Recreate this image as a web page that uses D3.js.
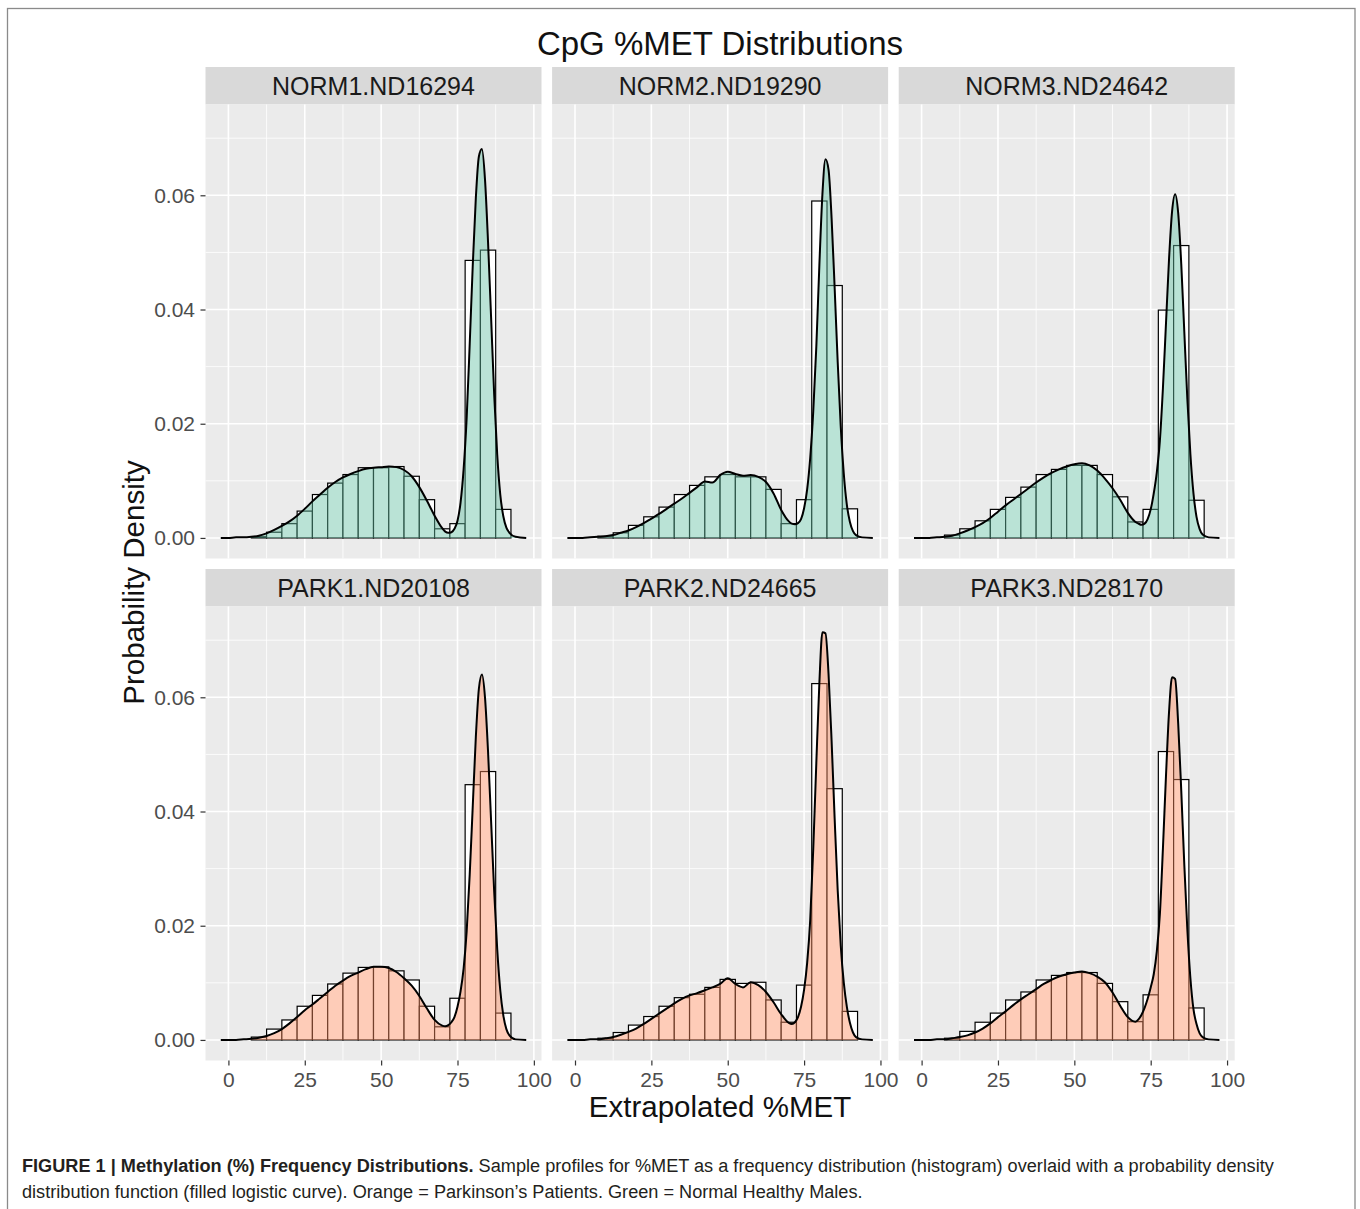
<!DOCTYPE html>
<html><head><meta charset="utf-8">
<script src="https://cdn.jsdelivr.net/npm/d3@7"></script>
<style>
body{margin:0;background:#fff;}
text{font-family:"Liberation Sans",Arial,Helvetica,sans-serif;}
</style>
</head><body>
<svg id="c" width="1360" height="1209"></svg>
<script>
// ---------------- data ----------------
const sampleNames = ["NORM1.ND16294","NORM2.ND19290","NORM3.ND24642","PARK1.ND20108","PARK2.ND24665","PARK3.ND28170"];
const sampleGroups = ["NORM","NORM","NORM","PARK","PARK","PARK"];

const binCenters = [0,5,10,15,20,25,30,35,40,45,50,55,60,65,70,75,80,85,90,95];
const hist_NORM1 = [0,0,0.0002,0.0010,0.0025,0.0047,0.0076,0.0096,0.0111,0.0123,0.0123,0.0125,0.0108,0.0067,0.0016,0.0025,0.0486,0.0504,0.0050,0];
const hist_NORM2 = [0,0,0.0003,0.0009,0.0022,0.0037,0.0054,0.0076,0.0092,0.0107,0.0111,0.0107,0.0107,0.0085,0.0025,0.0067,0.0590,0.0442,0.0051,0];
const hist_NORM3 = [0,0,0.0005,0.0016,0.0030,0.0050,0.0071,0.0089,0.0111,0.0120,0.0127,0.0127,0.0111,0.0072,0.0028,0.0050,0.0399,0.0512,0.0066,0];
const hist_PARK1 = [0,0,0.0005,0.0019,0.0035,0.0059,0.0078,0.0098,0.0117,0.0127,0.0128,0.0121,0.0105,0.0059,0.0023,0.0073,0.0447,0.0470,0.0047,0];
const hist_PARK2 = [0,0,0.0003,0.0013,0.0026,0.0041,0.0059,0.0074,0.0080,0.0092,0.0106,0.0099,0.0101,0.0070,0.0031,0.0096,0.0624,0.0440,0.0050,0];
const hist_PARK3 = [0,0,0.0003,0.0015,0.0031,0.0047,0.0070,0.0084,0.0105,0.0113,0.0118,0.0118,0.0099,0.0067,0.0032,0.0079,0.0505,0.0456,0.0056,0];

const densityX = [-2.5,0,2.5,5,7.5,10,12.5,15,17.5,20,22.5,25,27.5,30,32.5,35,37.5,40,42.5,45,47.5,50,52.5,55,57.5,60,62.5,65,67.5,70,
  71,72,73,74,75,76,77,78,79,80,81,82,83,84,85,86,87,88,89,90,91,92,94,97.5];
const dens_NORM1 = [0,0,0.0001,0.0001,0.0002,0.0004,0.0008,0.0014,0.0021,0.0029,
  0.0039,0.0051,0.0064,0.0076,0.0088,0.0098,0.0106,0.0112,
  0.0117,0.0121,0.0123,0.0124,0.0125,0.0124,0.0119,0.0108,
  0.0089,0.0065,0.0039,0.0017,
  0.0011,0.0009,0.0010,0.0016,0.0030,0.0062,0.0120,0.0210,0.0340,0.0478,0.0595,0.0668,0.0681,0.0628,0.0518,0.0386,0.0252,0.0146,0.0076,0.0038,0.0018,0.0009,
  0.0002,0];
const dens_NORM2 = [0,0,0,0.0001,0.0002,0.0003,0.0005,0.0009,0.0013,0.0019,
  0.0026,0.0034,0.0042,0.0051,0.0060,0.0069,0.0079,0.0089,
  0.0099,0.0097,0.0110,0.0116,0.0112,0.0109,0.0110,0.0107,
  0.0098,0.0078,0.0049,0.0029,
  0.0025,0.0024,0.0026,0.0033,0.0052,0.0085,0.0140,0.0222,0.0335,0.0478,0.0602,0.0663,0.0645,0.0560,0.0438,0.0308,0.0195,0.0112,0.0058,0.0028,0.0012,0.0005,
  0.0001,0];
const dens_NORM3 = [0,0,0,0.0001,0.0002,0.0004,0.0008,0.0013,0.0019,0.0026,
  0.0035,0.0046,0.0057,0.0067,0.0077,0.0087,0.0097,0.0106,
  0.0114,0.0120,0.0125,0.0129,0.0131,0.0127,0.0118,0.0104,
  0.0087,0.0067,0.0044,0.0028,
  0.0025,0.0023,0.0025,0.0033,0.0050,0.0078,0.0115,0.0170,0.0262,0.0375,0.0488,0.0572,0.0602,0.0569,0.0480,0.0361,0.0243,0.0146,0.0078,0.0037,0.0016,0.0006,
  0.0001,0];
const dens_PARK1 = [0,0,0,0.0001,0.0002,0.0004,0.0007,0.0012,0.0019,0.0029,
  0.0040,0.0052,0.0062,0.0073,0.0084,0.0095,0.0104,0.0112,
  0.0118,0.0124,0.0128,0.0128,0.0126,0.0119,0.0108,0.0095,
  0.0077,0.0055,0.0035,0.0025,
  0.0024,0.0026,0.0031,0.0040,0.0058,0.0085,0.0125,0.0190,0.0290,0.0410,0.0530,0.0615,0.0640,0.0600,0.0505,0.0383,0.0261,0.0159,0.0087,0.0043,0.0019,0.0008,
  0.0001,0];
const dens_PARK2 = [0,0,0,0.0001,0.0001,0.0003,0.0005,0.0009,0.0014,0.0020,
  0.0028,0.0037,0.0046,0.0055,0.0064,0.0072,0.0078,0.0082,
  0.0087,0.0092,0.0098,0.0108,0.0098,0.0092,0.0101,0.0096,
  0.0084,0.0066,0.0045,0.0030,
  0.0028,0.0031,0.0040,0.0058,0.0088,0.0135,0.0210,0.0335,0.0485,0.0625,0.0714,0.0712,0.0641,0.0524,0.0388,0.0262,0.0165,0.0100,0.0058,0.0030,0.0013,0.0005,
  0.0001,0];
const dens_PARK3 = [0,0,0,0.0001,0.0001,0.0003,0.0005,0.0008,0.0013,0.0020,
  0.0029,0.0040,0.0050,0.0061,0.0071,0.0080,0.0089,0.0098,
  0.0105,0.0111,0.0115,0.0118,0.0120,0.0117,0.0111,0.0101,
  0.0083,0.0060,0.0040,0.0032,
  0.0036,0.0044,0.0056,0.0072,0.0092,0.0115,0.0155,0.0220,0.0335,0.0462,0.0574,0.0635,0.0632,0.0554,0.0437,0.0307,0.0193,0.0108,0.0054,0.0028,0.0012,0.0005,
  0.0001,0];

const xTicks = [0,25,50,75,100];
const xMinorTicks = [12.5,37.5,62.5,87.5];
const yTicks = [0,0.02,0.04,0.06];
const yMinorTicks = [0.01,0.03,0.05,0.07];
const xDomain = [-7.5,102.5];
const yDomain = [-0.0036,0.0759];
const binWidth = 5;

const titleText = "CpG %MET Distributions";
const xTitle = "Extrapolated %MET";
const yTitle = "Probability Density";
const captionBold = "FIGURE 1 | Methylation (%) Frequency Distributions.";
const captionLine1 = " Sample profiles for %MET as a frequency distribution (histogram) overlaid with a probability density";
const captionLine2 = "distribution function (filled logistic curve). Orange = Parkinson\u2019s Patients. Green = Normal Healthy Males.";

const histBySample = [hist_NORM1,hist_NORM2,hist_NORM3,hist_PARK1,hist_PARK2,hist_PARK3];
const densBySample = [dens_NORM1,dens_NORM2,dens_NORM3,dens_PARK1,dens_PARK2,dens_PARK3];
const groupColors = {NORM:"#66c2a5", PARK:"#fc8d62"};

// ---------------- layout ----------------
const svg = d3.select("#c");
const panelLeft0 = 205.5, panelW = 336, gapX = 10.6;
const stripTops = [67, 569], stripH = 37.5, panelH = 454;

// frame
svg.append("rect").attr("x",7.5).attr("y",8.5).attr("width",1347.5).attr("height",1260)
  .attr("fill","#fff").attr("stroke","#8a8a8a").attr("stroke-width",1.3);

// title
svg.append("text").attr("x",720).attr("y",55).attr("text-anchor","middle")
  .attr("font-size",33).attr("fill","#111").text(titleText);

sampleNames.forEach((name, i) => {
  const col = i % 3, row = Math.floor(i / 3);
  const px = panelLeft0 + col * (panelW + gapX);
  const sTop = stripTops[row];
  const py = sTop + stripH;
  const g = svg.append("g");

  const x = d3.scaleLinear().domain(xDomain).range([px, px + panelW]);
  const y = d3.scaleLinear().domain(yDomain).range([py + panelH, py]);

  // strip
  g.append("rect").attr("x",px).attr("y",sTop).attr("width",panelW).attr("height",stripH).attr("fill","#d9d9d9");
  g.append("text").attr("x",px + panelW/2).attr("y",sTop + stripH/2 + 9).attr("text-anchor","middle")
    .attr("font-size",25).attr("fill","#1a1a1a").text(name);

  // panel background
  g.append("rect").attr("x",px).attr("y",py).attr("width",panelW).attr("height",panelH).attr("fill","#ebebeb");

  // grid
  g.selectAll(".vmin").data(xMinorTicks).enter().append("line")
    .attr("x1",d=>x(d)).attr("x2",d=>x(d)).attr("y1",py).attr("y2",py+panelH)
    .attr("stroke","#fff").attr("stroke-width",0.8);
  g.selectAll(".hmin").data(yMinorTicks).enter().append("line")
    .attr("y1",d=>y(d)).attr("y2",d=>y(d)).attr("x1",px).attr("x2",px+panelW)
    .attr("stroke","#fff").attr("stroke-width",0.8);
  g.selectAll(".vmaj").data(xTicks).enter().append("line")
    .attr("x1",d=>x(d)).attr("x2",d=>x(d)).attr("y1",py).attr("y2",py+panelH)
    .attr("stroke","#fff").attr("stroke-width",1.6);
  g.selectAll(".hmaj").data(yTicks).enter().append("line")
    .attr("y1",d=>y(d)).attr("y2",d=>y(d)).attr("x1",px).attr("x2",px+panelW)
    .attr("stroke","#fff").attr("stroke-width",1.6);

  // histogram
  const hist = histBySample[i];
  g.selectAll(".bar").data(binCenters.map((c,k)=>({c, v:hist[k]})).filter(d=>d.v>0)).enter().append("rect")
    .attr("x",d=>x(d.c - binWidth/2)).attr("width",d=>x(d.c + binWidth/2) - x(d.c - binWidth/2))
    .attr("y",d=>y(d.v)).attr("height",d=>y(0) - y(d.v))
    .attr("fill","#fff").attr("stroke","#000").attr("stroke-width",1.2);

  // density
  const dens = densBySample[i];
  const pts = densityX.map((xv,k)=>[xv, dens[k]]);
  const area = d3.area().x(d=>x(d[0])).y0(y(0)).y1(d=>y(d[1])).curve(d3.curveMonotoneX);
  g.append("path").attr("d",area(pts)).attr("fill",groupColors[sampleGroups[i]]).attr("fill-opacity",0.45).attr("stroke","none");
  const line = d3.line().x(d=>x(d[0])).y(d=>y(d[1])).curve(d3.curveMonotoneX);
  g.append("path").attr("d",line(pts)).attr("fill","none").attr("stroke","#000").attr("stroke-width",2);

  // axes
  if (col === 0) {
    const ax = g.append("g").attr("transform",`translate(${px},0)`)
      .call(d3.axisLeft(y).tickValues(yTicks).tickFormat(d3.format(".2f")).tickSize(5).tickPadding(5.5));
    ax.select(".domain").remove();
    ax.selectAll("line").attr("stroke","#333").attr("stroke-width",1.2);
    ax.selectAll("text").attr("font-size",21).attr("fill","#4d4d4d").attr("font-family",null);
  }
  if (row === 1) {
    const ax = g.append("g").attr("transform",`translate(0,${py+panelH})`)
      .call(d3.axisBottom(x).tickValues(xTicks).tickSize(5).tickPadding(7));
    ax.select(".domain").remove();
    ax.selectAll("line").attr("stroke","#333").attr("stroke-width",1.2);
    ax.selectAll("text").attr("font-size",21).attr("fill","#4d4d4d").attr("font-family",null);
  }
});

// axis titles
svg.append("text").attr("x",720).attr("y",1117).attr("text-anchor","middle")
  .attr("font-size",29.5).attr("fill","#111").text(xTitle);
svg.append("text").attr("transform","translate(144,582.5) rotate(-90)").attr("text-anchor","middle")
  .attr("font-size",29.5).attr("fill","#111").text(yTitle);

// caption
const cap1 = svg.append("text").attr("x",22).attr("y",1172).attr("font-size",16.5).attr("fill","#231f20");
cap1.append("tspan").attr("font-weight","bold").text(captionBold);
cap1.append("tspan").text(captionLine1);
const cap2 = svg.append("text").attr("x",22).attr("y",1198).attr("font-size",16.5).attr("fill","#231f20").text(captionLine2);
// fit the first caption line to its measured width in the reference
const targetW = 1253;
const w1 = cap1.node().getComputedTextLength();
const fs = 16.5 * targetW / w1;
cap1.attr("font-size",fs); cap2.attr("font-size",fs);
</script>
</body></html>
